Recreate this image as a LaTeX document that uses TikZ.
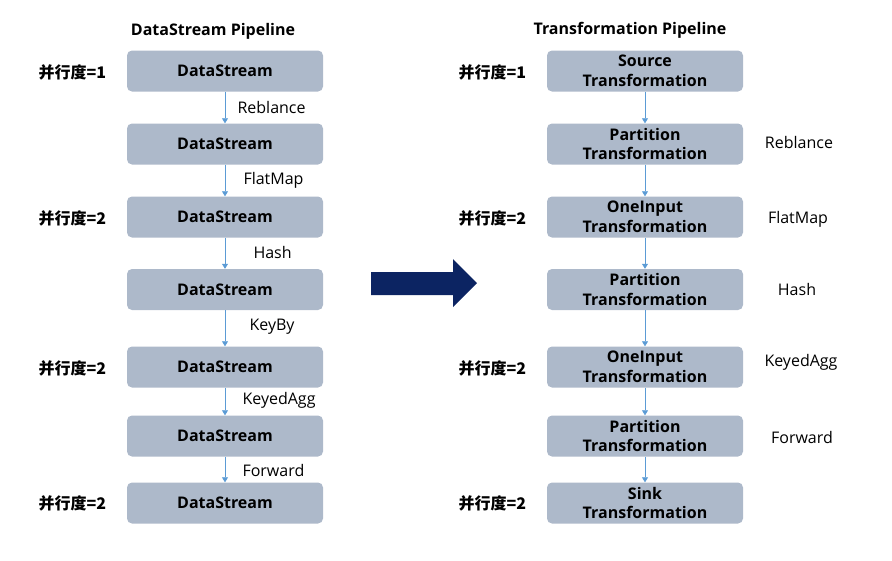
\documentclass[tikz,border=0pt]{standalone}
\usepackage{fontspec}
\setmainfont{Open Sans}
\newfontfamily\cjk{Noto Sans CJK SC}
\usetikzlibrary{arrows.meta,positioning}
\definecolor{boxFill}{HTML}{ADB9CA}
\definecolor{flowBlue}{HTML}{5B9BD5}
\definecolor{bigNavy}{HTML}{0C2462}

\begin{document}
\begin{tikzpicture}[x=1pt,y=-1pt,
  stage/.style={fill=boxFill,rounded corners=5pt,minimum width=196pt,minimum height=41pt,inner sep=0pt,align=center,font=\bfseries\fontsize{16}{19.5}\selectfont},
  flow/.style={-{Triangle[length=5pt,width=6pt]},flowBlue,semithick},
  edgelabel/.style={anchor=west,font=\fontsize{16}{19}\selectfont},
  para/.style={anchor=west,font=\cjk\bfseries\fontsize{16}{19}\selectfont},
  pipetitle/.style={font=\bfseries\fontsize{16}{19}\selectfont}]
  \useasboundingbox (0,0) rectangle (892,560);

  % DataStream side
  \node[pipetitle] (dstitle) at (213,31) {DataStream Pipeline};
  \node[stage] (ds1) at (225,71) {DataStream};
  \node[stage] (ds2) at (225,144) {DataStream};
  \node[stage] (ds3) at (225,217) {DataStream};
  \node[stage] (ds4) at (225,289.5) {DataStream};
  \node[stage] (ds5) at (225,367) {DataStream};
  \node[stage] (ds6) at (225,436) {DataStream};
  \node[stage] (ds7) at (225,503) {DataStream};
  \node[para] (dsp1) at (35,72) {并行度=1};
  \node[para] (dsp2) at (35,218) {并行度=2};
  \node[para] (dsp3) at (35,368) {并行度=2};
  \node[para] (dsp4) at (35,503) {并行度=2};
  \draw[flow] (ds1) -- (ds2);
  \draw[flow] (ds2) -- (ds3);
  \draw[flow] (ds3) -- (ds4);
  \draw[flow] (ds4) -- (ds5);
  \draw[flow] (ds5) -- (ds6);
  \draw[flow] (ds6) -- (ds7);
  \node[edgelabel] (dsl1) at (234,107) {Reblance};
  \node[edgelabel] (dsl2) at (240,180) {FlatMap};
  \node[edgelabel] (dsl3) at (250,252) {Hash};
  \node[edgelabel] (dsl4) at (246,327) {KeyBy};
  \node[edgelabel] (dsl5) at (239,400) {KeyedAgg};
  \node[edgelabel] (dsl6) at (239,470) {Forward};

  % big arrow
  \fill[bigNavy] (371,272) -- (453,272) -- (453,259) -- (477,283) -- (453,307) -- (453,295) -- (371,295) -- cycle;

  % Transformation side
  \node[pipetitle] (trtitle) at (630,30) {Transformation Pipeline};
  \node[stage] (tr1) at (645,71) {Source\\Transformation};
  \node[stage] (tr2) at (645,144) {Partition\\Transformation};
  \node[stage] (tr3) at (645,217) {OneInput\\Transformation};
  \node[stage] (tr4) at (645,289.5) {Partition\\Transformation};
  \node[stage] (tr5) at (645,367) {OneInput\\Transformation};
  \node[stage] (tr6) at (645,436) {Partition\\Transformation};
  \node[stage] (tr7) at (645,503) {Sink\\Transformation};
  \node[para] (trp1) at (455,72) {并行度=1};
  \node[para] (trp2) at (455,218) {并行度=2};
  \node[para] (trp3) at (455,368) {并行度=2};
  \node[para] (trp4) at (455,503) {并行度=2};
  \draw[flow] (tr1) -- (tr2);
  \draw[flow] (tr2) -- (tr3);
  \draw[flow] (tr3) -- (tr4);
  \draw[flow] (tr4) -- (tr5);
  \draw[flow] (tr5) -- (tr6);
  \draw[flow] (tr6) -- (tr7);
  \node[font=\fontsize{16}{19}\selectfont] (trl1) at (799,142) {Reblance};
  \node[font=\fontsize{16}{19}\selectfont] (trl2) at (798,219) {FlatMap};
  \node[font=\fontsize{16}{19}\selectfont] (trl3) at (797,289) {Hash};
  \node[font=\fontsize{16}{19}\selectfont] (trl4) at (801,362) {KeyedAgg};
  \node[font=\fontsize{16}{19}\selectfont] (trl5) at (802,437) {Forward};
\end{tikzpicture}
\end{document}
